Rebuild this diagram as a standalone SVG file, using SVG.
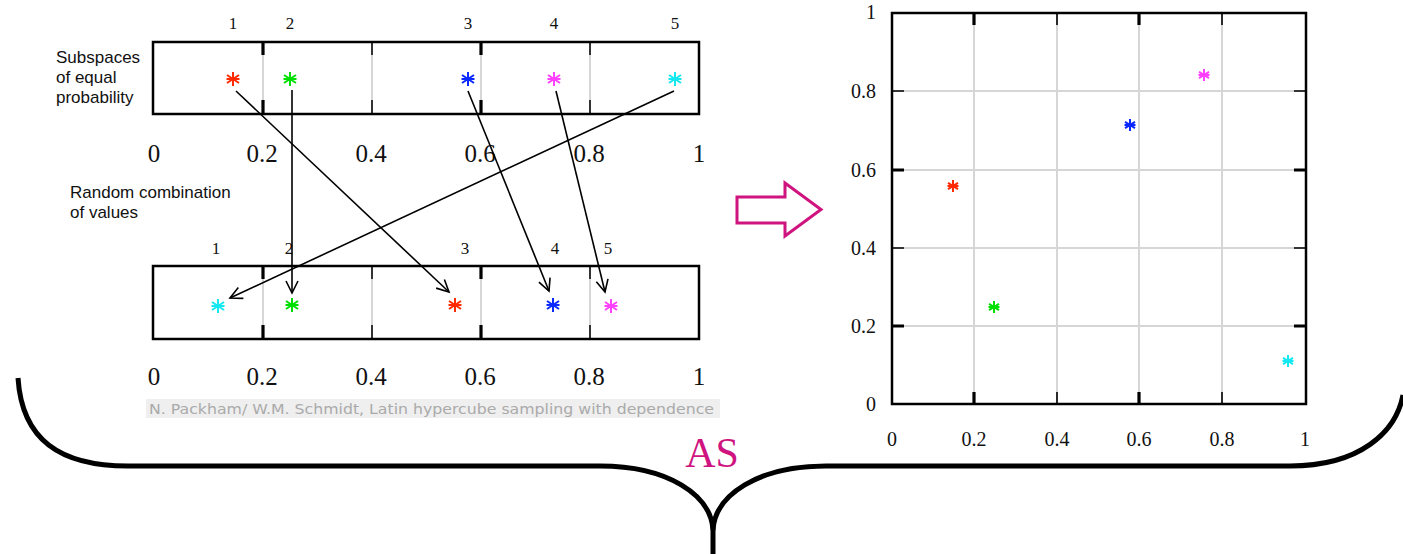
<svg xmlns="http://www.w3.org/2000/svg" width="1403" height="554" viewBox="0 0 1403 554">
<style>
.lbl{font-family:"Liberation Sans",Arial,sans-serif;font-size:17px;fill:#111}
.num{font-family:"Liberation Serif","Times New Roman",serif;font-size:17px;fill:#111;text-anchor:middle}
.ax{font-family:"Liberation Serif","Times New Roman",serif;font-size:25px;fill:#111;text-anchor:middle}
.pax{font-family:"Liberation Serif","Times New Roman",serif;font-size:20px;fill:#111}
.box{fill:none;stroke:#000;stroke-width:2.5}
.grid{stroke:#d6d6d6;stroke-width:2;fill:none}
.tk{stroke:#000;stroke-width:1.6}
.tkb{stroke:#000;stroke-width:3.2}
.conn{stroke:#000;stroke-width:1.6;fill:none;marker-end:url(#v)}
.st{stroke-width:2;fill:none}
</style>
<defs>
<marker id="v" markerUnits="userSpaceOnUse" markerWidth="16" markerHeight="16" refX="13" refY="7" orient="auto">
<path d="M1,1 L13,7 L1,13" fill="none" stroke="#000" stroke-width="1.6"/>
</marker>
<path id="ast" d="M0,-7V7M-6,-4L6,4M-6,4L6,-4M-6.5,0H6.5"/>
<path id="ast2" d="M0,-6V6M-5,-3.2L5,3.2M-5,3.2L5,-3.2M-5.5,0H5.5"/>
</defs>
<rect width="1403" height="554" fill="#fff"/>

<g id="top-box">
<rect class="box" x="153" y="42" width="546" height="72"/>
<g class="grid"><path d="M263,55V100M372,55V100M481,55V100M590,55V100"/></g>
<path class="tkb" d="M263,42V55M263,100V114M481,42V55M481,100V114"/>
<path class="tk" d="M372,42V55M372,100V114M590,42V55M590,100V114"/>
<g class="num"><text x="233" y="29">1</text><text x="290" y="29">2</text><text x="468" y="29">3</text><text x="554" y="29">4</text><text x="675" y="29">5</text></g>
<use href="#ast" x="233" y="79" class="st" stroke="#ff2a00"/>
<use href="#ast" x="290" y="79" class="st" stroke="#00e000"/>
<use href="#ast" x="468" y="79" class="st" stroke="#0a28ff"/>
<use href="#ast" x="554" y="79" class="st" stroke="#ff40ff"/>
<use href="#ast" x="675" y="79" class="st" stroke="#14e8f0"/>
</g>
<g id="top-label" class="lbl"><text x="56" y="63">Subspaces</text><text x="56" y="83">of equal</text><text x="56" y="103">probability</text></g>
<g id="top-axis" class="ax"><text x="154" y="162">0</text><text x="262" y="162">0.2</text><text x="371" y="162">0.4</text><text x="480" y="162">0.6</text><text x="589" y="162">0.8</text><text x="699" y="162">1</text></g>

<g id="mid-label" class="lbl"><text x="70" y="198">Random combination</text><text x="70" y="218">of values</text></g>

<g id="bottom-box">
<rect class="box" x="153" y="266" width="546" height="73"/>
<g class="grid"><path d="M263,279V325M372,279V325M481,279V325M590,279V325"/></g>
<path class="tkb" d="M263,266V279M263,325V339M481,266V279M481,325V339"/>
<path class="tk" d="M372,266V279M372,325V339M590,266V279M590,325V339"/>
<g class="num"><text x="216" y="254">1</text><text x="289" y="254">2</text><text x="465" y="254">3</text><text x="555" y="254">4</text><text x="608" y="254">5</text></g>
<use href="#ast" x="218" y="306" class="st" stroke="#14e8f0"/>
<use href="#ast" x="292" y="305" class="st" stroke="#00e000"/>
<use href="#ast" x="455" y="305" class="st" stroke="#ff2a00"/>
<use href="#ast" x="553" y="305" class="st" stroke="#0a28ff"/>
<use href="#ast" x="611" y="306" class="st" stroke="#ff40ff"/>
</g>
<g id="bottom-axis" class="ax"><text x="154" y="385">0</text><text x="262" y="385">0.2</text><text x="371" y="385">0.4</text><text x="480" y="385">0.6</text><text x="589" y="385">0.8</text><text x="699" y="385">1</text></g>

<g id="citation">
<rect x="146" y="399" width="574" height="19" fill="#efefef"/>
<text x="149" y="414" font-family="'DejaVu Sans',sans-serif" font-size="14" fill="#aaaaaa" textLength="565" lengthAdjust="spacingAndGlyphs">N. Packham/ W.M. Schmidt, Latin hypercube sampling with dependence</text>
</g>

<g id="connectors">
<line class="conn" x1="236" y1="91" x2="449" y2="292"/>
<line class="conn" x1="292" y1="90" x2="292" y2="293"/>
<line class="conn" x1="468" y1="91" x2="549" y2="291"/>
<line class="conn" x1="556" y1="91" x2="605" y2="292"/>
<line class="conn" x1="674" y1="91" x2="230" y2="298"/>
</g>

<g id="block-arrow">
<path d="M737,197H785V183L821,209.5L785,236V223H737Z" fill="#fff" stroke="#cf137f" stroke-width="3" stroke-linejoin="miter"/>
</g>

<g id="scatter-plot">
<path class="grid" d="M974,13V404M1057,13V404M1139,13V404M1222,13V404M892,91H1306M892,170H1306M892,248H1306M892,326H1306"/>
<rect class="box" x="892" y="13" width="414" height="391"/>
<path class="tkb" d="M974,13V25M974,404V392M1139,13V25M1139,404V392M892,170H904M1306,170H1294M892,326H904M1306,326H1294"/>
<path class="tk" d="M1057,13V25M1057,404V392M1222,13V25M1222,404V392M892,91H904M1306,91H1294M892,248H904M1306,248H1294"/>
<g class="pax" text-anchor="end"><text x="876" y="19">1</text><text x="876" y="98">0.8</text><text x="876" y="177">0.6</text><text x="876" y="255">0.4</text><text x="876" y="333">0.2</text><text x="876" y="411">0</text></g>
<g class="pax" text-anchor="middle"><text x="892" y="446">0</text><text x="974" y="446">0.2</text><text x="1057" y="446">0.4</text><text x="1139" y="446">0.6</text><text x="1222" y="446">0.8</text><text x="1305" y="446">1</text></g>
<use href="#ast2" x="953" y="186" class="st" stroke="#ff2a00"/>
<use href="#ast2" x="1130" y="125" class="st" stroke="#0a28ff"/>
<use href="#ast2" x="1204" y="75" class="st" stroke="#ff40ff"/>
<use href="#ast2" x="994" y="307" class="st" stroke="#00e000"/>
<use href="#ast2" x="1288" y="361" class="st" stroke="#14e8f0"/>
</g>

<g id="brace">
<path d="M18,378C22,440 60,466 128,466L600,466C668,466 711,495 713,530L713,554" fill="none" stroke="#000" stroke-width="5"/>
<path d="M713,530C715,495 758,466 826,466L1290,466C1360,466 1396,432 1403,395" fill="none" stroke="#000" stroke-width="5"/>
</g>
<g id="as-label"><text x="712" y="467" text-anchor="middle" font-family="'Liberation Serif','Times New Roman',serif" font-size="42" fill="#cf137f">AS</text></g>
</svg>
